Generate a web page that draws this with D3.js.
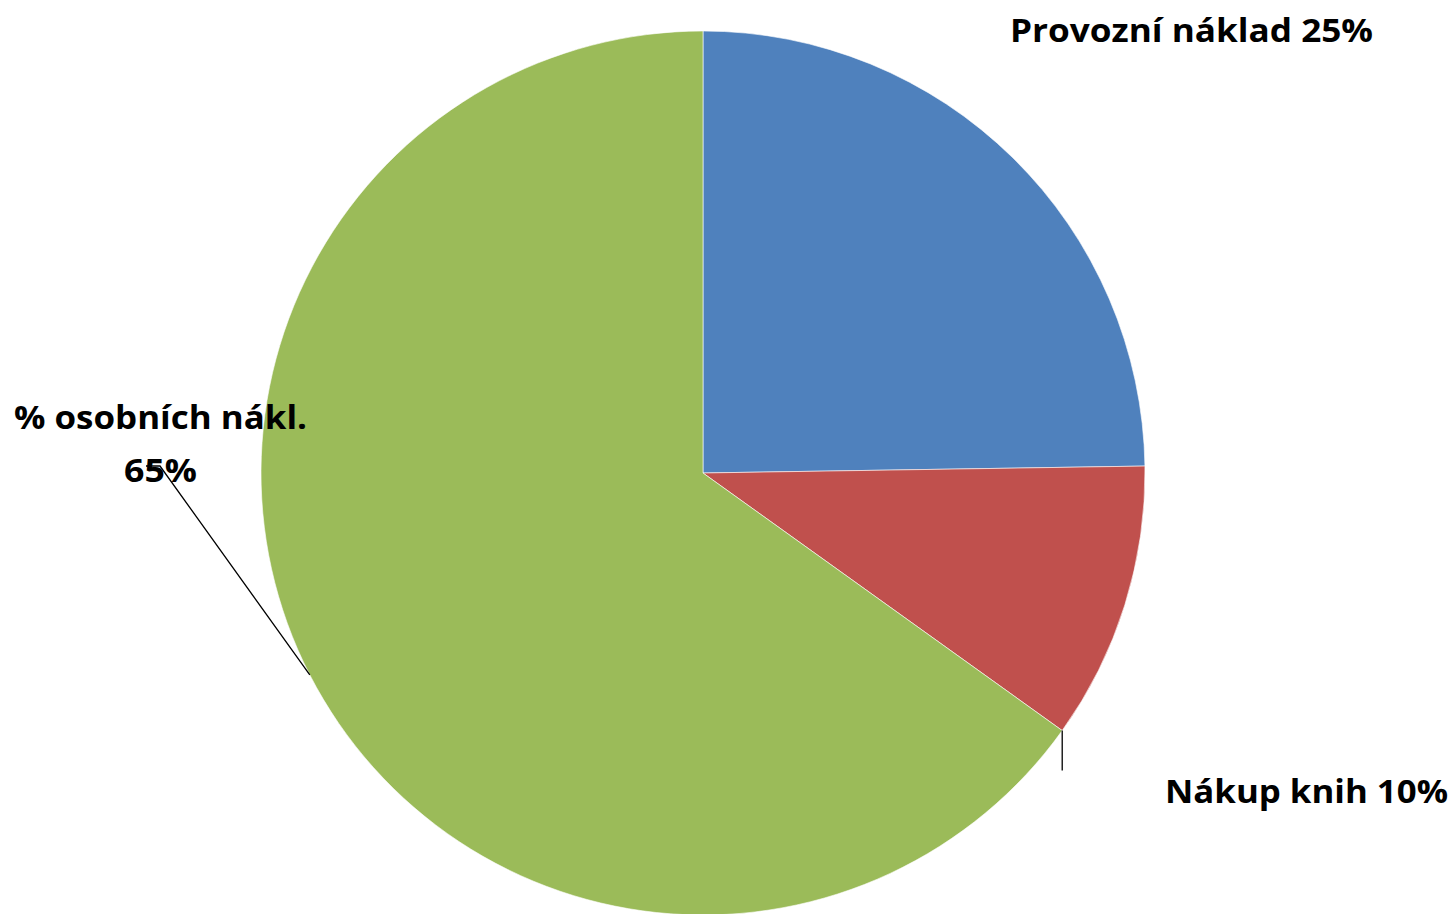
<!DOCTYPE html>
<html>
<head>
<meta charset="utf-8">
<script src="https://cdn.jsdelivr.net/npm/d3@7"></script>
<style>
  body { margin: 0; background: #fff; }
  svg text { font-family: "Open Sans", Lato, sans-serif; font-weight: bold; }
</style>
</head>
<body>
<div id="pie"></div>
<script>
// Data
const categories = ["Provozní náklad", "Nákup knih", "% osobních nákl."];
const values = [24.75, 10.15, 65.1];
const percentLabels = ["25%", "10%", "65%"];
const colors = ["#4F81BD", "#C0504D", "#9BBB59"];

const width = 1455, height = 914;
const cx = 703, cy = 473, radius = 442;

const svg = d3.select("#pie")
    .append("svg")
    .attr("width", width)
    .attr("height", height);

const g = svg.append("g")
    .attr("transform", `translate(${cx},${cy})`);

const pie = d3.pie().sort(null).value(d => d);
const arcs = pie(values);

const arc = d3.arc().innerRadius(0).outerRadius(radius);

// Slices
g.selectAll("path")
    .data(arcs)
    .enter()
    .append("path")
    .attr("d", arc)
    .attr("fill", (d, i) => colors[i])
    .attr("stroke", "#fff")
    .attr("stroke-width", 0.6);

// point on the rim at a given pie angle
const rim = a => [radius * Math.sin(a), -radius * Math.cos(a)];

// Leader lines
const redEnd = rim(arcs[1].endAngle);
g.append("line")
    .attr("x1", redEnd[0]).attr("y1", redEnd[1])
    .attr("x2", redEnd[0]).attr("y2", redEnd[1] + 40)
    .attr("stroke", "#000").attr("stroke-width", 1.3);

const greenMid = rim((arcs[2].startAngle + arcs[2].endAngle) / 2);
g.append("polyline")
    .attr("points", `${greenMid[0]},${greenMid[1]} ${160 - cx},${466 - cy} ${146 - cx},${466 - cy}`)
    .attr("fill", "none")
    .attr("stroke", "#000").attr("stroke-width", 1.3);

// Labels
const fs = 32;
svg.append("text")
    .attr("x", 1010).attr("y", 42)
    .style("font-size", fs + "px")
    .attr("textLength", 363).attr("lengthAdjust", "spacingAndGlyphs")
    .text(`${categories[0]} ${percentLabels[0]}`);

svg.append("text")
    .attr("x", 1165).attr("y", 803)
    .style("font-size", fs + "px")
    .attr("textLength", 283).attr("lengthAdjust", "spacingAndGlyphs")
    .text(`${categories[1]} ${percentLabels[1]}`);

svg.append("text")
    .attr("x", 14).attr("y", 429)
    .style("font-size", fs + "px")
    .attr("textLength", 293).attr("lengthAdjust", "spacingAndGlyphs")
    .text(categories[2]);

svg.append("text")
    .attr("x", 124).attr("y", 482)
    .style("font-size", fs + "px")
    .attr("textLength", 73).attr("lengthAdjust", "spacingAndGlyphs")
    .text(percentLabels[2]);
</script>
</body>
</html>
